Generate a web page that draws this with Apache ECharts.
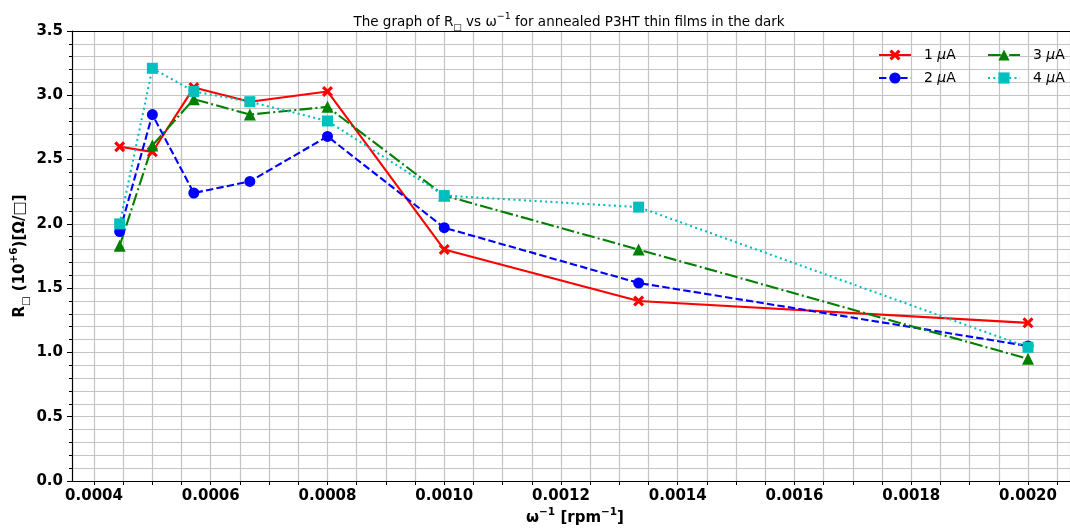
<!DOCTYPE html>
<html>
<head>
<meta charset="utf-8">
<script src="https://cdn.jsdelivr.net/npm/echarts@6/dist/echarts.min.js"></script>
<style>
html,body{margin:0;padding:0;background:#fff;}
#chart{width:1070px;height:532px;}
</style>
</head>
<body>
<div id="chart"></div>
<script>
// ---- data ----
const xValues = [0.000444, 0.0005, 0.000571, 0.000667, 0.0008, 0.001, 0.001333, 0.002]; // ω^-1 [rpm^-1]
const seriesNames = ['1 μA', '2 μA', '3 μA', '4 μA'];
const r1uA = [2.60, 2.56, 3.06, 2.95, 3.03, 1.80, 1.40, 1.23];
const r2uA = [1.94, 2.85, 2.24, 2.33, 2.68, 1.97, 1.54, 1.05];
const r3uA = [1.83, 2.61, 2.97, 2.85, 2.91, 2.22, 1.80, 0.95];
const r4uA = [2.00, 3.21, 3.03, 2.95, 2.80, 2.22, 2.13, 1.04];
const yTicks = [0, 0.5, 1.0, 1.5, 2.0, 2.5, 3.0, 3.5];
const xMajorStep = 0.0002;
const xMinorStep = 0.00005;

// ---- layout ----
const W = 1070, H = 532;
const plotTop = 31, plotBottomPx = 481;
const x0px = 94, xScale = 583750;           // px per unit of ω^-1
const axisLeftPx = 72;
const xMinMajor = 0.0004;
const xMaxEdge = xMinMajor + (W - x0px) / xScale;
const xMinB = xMinMajor - (x0px - axisLeftPx) / xScale;

const gridColor = '#c4c4c4';
const FONT = 'DejaVu Sans';

const xPairs = arr => xValues.map((x, i) => [x, arr[i]]);
const xPath = 'path://M0,2 L2,0 L5,3 L8,0 L10,2 L7,5 L10,8 L8,10 L5,7 L2,10 L0,8 L3,5 Z';

const styles = [
  {color: '#ff0000', type: 'solid', symbol: xPath, size: 11, data: r1uA},
  {color: '#0000ff', type: [7.4, 3.2], symbol: 'circle', size: 11, data: r2uA},
  {color: '#008000', type: [12.8, 3.2, 2, 3.2], symbol: 'triangle', size: 12, data: r3uA},
  {color: '#00bfbf', type: [2, 3.3], symbol: 'rect', size: 11, data: r4uA}
];

const series = styles.map((s, i) => ({
  name: seriesNames[i],
  type: 'line',
  xAxisIndex: 0,
  yAxisIndex: 0,
  data: xPairs(s.data),
  symbol: s.symbol,
  symbolSize: s.size,
  showAllSymbol: true,
  animation: false,
  lineStyle: {color: s.color, width: 2.1, type: s.type},
  itemStyle: {color: s.color, borderWidth: 0},
  emphasis: {disabled: true}
}));

const legendFmt = name => {
  const parts = name.split(' ');
  return '{n|' + parts[0] + ' }{i|μ}{n|A}';
};
const legendCommon = {
  orient: 'vertical',
  top: 43,
  itemWidth: 32,
  itemHeight: 14,
  itemGap: 9,
  formatter: legendFmt,
  textStyle: {
    fontFamily: FONT, fontSize: 14, color: '#000', padding: [0, 0, 0, 8],
    rich: {
      n: {fontFamily: FONT, fontSize: 14, color: '#000'},
      i: {fontFamily: FONT, fontSize: 14, fontStyle: 'italic', color: '#000'}
    }
  },
  selectedMode: false
};

const isMajor = v => Math.abs(v / xMajorStep - Math.round(v / xMajorStep)) < 1e-6;

const option = {
  backgroundColor: '#fff',
  animation: false,
  title: {
    text: '{a|The graph of R}{s|□}{a| vs ω}{p|−1}{a| for annealed P3HT thin films in the dark}',
    left: 564, top: 7, textAlign: 'center',
    textStyle: {
      fontWeight: 'normal', fontFamily: FONT, fontSize: 13.5, color: '#000',
      rich: {
        a: {fontFamily: FONT, fontSize: 13.5, fontWeight: 'normal', color: '#000', lineHeight: 20, verticalAlign: 'middle'},
        s: {fontFamily: FONT, fontSize: 9, fontWeight: 'normal', color: '#000', lineHeight: 20, verticalAlign: 'bottom'},
        p: {fontFamily: FONT, fontSize: 9.5, fontWeight: 'normal', color: '#000', lineHeight: 20, verticalAlign: 'top'}
      }
    }
  },
  legend: [
    Object.assign({left: 873, data: [seriesNames[0], seriesNames[1]]}, legendCommon),
    Object.assign({left: 982, data: [seriesNames[2], seriesNames[3]]}, legendCommon)
  ],
  grid: [
    {left: x0px, right: 0, top: plotTop, bottom: H - plotBottomPx},
    {left: axisLeftPx, right: 0, top: plotTop, bottom: H - plotBottomPx}
  ],
  xAxis: [
    { // grid 0: x ticks, labels, vertical grid lines
      type: 'value', gridIndex: 0,
      min: xMinMajor, max: xMaxEdge, interval: xMinorStep,
      axisLine: {show: false},
      axisTick: {show: true, inside: false, length: 4, lineStyle: {color: '#000', width: 1}},
      splitLine: {show: true, lineStyle: {color: gridColor, width: 1.2}},
      axisLabel: {
        fontFamily: FONT, fontSize: 15, fontWeight: 'bold', color: '#000', margin: 8,
        showMaxLabel: false,
        formatter: v => isMajor(v) ? v.toFixed(4) : ''
      }
    },
    { // grid 1: bottom spine
      type: 'value', gridIndex: 1, position: 'bottom',
      min: xMinB, max: xMaxEdge,
      axisLine: {show: true, onZero: false, lineStyle: {color: '#000', width: 1.2}},
      axisTick: {show: false}, axisLabel: {show: false}, splitLine: {show: false}
    },
    { // grid 1: top spine
      type: 'value', gridIndex: 1, position: 'top',
      min: xMinB, max: xMaxEdge,
      axisLine: {show: true, onZero: false, lineStyle: {color: '#000', width: 1.2}},
      axisTick: {show: false}, axisLabel: {show: false}, splitLine: {show: false}
    }
  ],
  yAxis: [
    { // grid 0 hidden
      type: 'value', gridIndex: 0, min: yTicks[0], max: yTicks[yTicks.length - 1],
      show: false
    },
    { // grid 1: y axis
      type: 'value', gridIndex: 1, min: yTicks[0], max: yTicks[yTicks.length - 1], interval: yTicks[1] - yTicks[0],
      axisLine: {show: true, onZero: false, lineStyle: {color: '#000', width: 1.2}},
      axisTick: {show: true, inside: false, length: 5, lineStyle: {color: '#000', width: 1}},
      minorTick: {show: true, splitNumber: 5, length: 3, lineStyle: {color: '#000', width: 1}},
      splitLine: {show: true, lineStyle: {color: gridColor, width: 1.2}},
      minorSplitLine: {show: true, lineStyle: {color: gridColor, width: 1.2}},
      axisLabel: {
        fontFamily: FONT, fontSize: 15, fontWeight: 'bold', color: '#000', margin: 9,
        formatter: v => v.toFixed(1)
      }
    }
  ],
  graphic: [
    {
      type: 'text', x: 575, y: 518, silent: true,
      style: {
        text: '{a|ω}{p|−1}{a| [rpm}{p|−1}{a|]}',
        align: 'center', verticalAlign: 'middle',
        rich: {
          a: {fontFamily: FONT, fontSize: 15, fontWeight: 'bold', fill: '#000', lineHeight: 22, verticalAlign: 'middle'},
          p: {fontFamily: FONT, fontSize: 10.5, fontWeight: 'bold', fill: '#000', lineHeight: 22, verticalAlign: 'top'}
        }
      }
    },
    {
      type: 'text', x: 20, y: 256, rotation: Math.PI / 2, silent: true,
      style: {
        text: '{a|R}{s|□}{a| (10}{p|+6}{a|)[Ω/□]}',
        align: 'center', verticalAlign: 'middle',
        rich: {
          a: {fontFamily: FONT, fontSize: 15, fontWeight: 'bold', fill: '#000', lineHeight: 22, verticalAlign: 'middle'},
          s: {fontFamily: FONT, fontSize: 10, fontWeight: 'bold', fill: '#000', lineHeight: 22, verticalAlign: 'bottom'},
          p: {fontFamily: FONT, fontSize: 10.5, fontWeight: 'bold', fill: '#000', lineHeight: 22, verticalAlign: 'top'}
        }
      }
    }
  ],
  series: series
};

const chart = echarts.init(document.getElementById('chart'), null, {renderer: 'canvas', width: W, height: H});
chart.setOption(option);
</script>
</body>
</html>
